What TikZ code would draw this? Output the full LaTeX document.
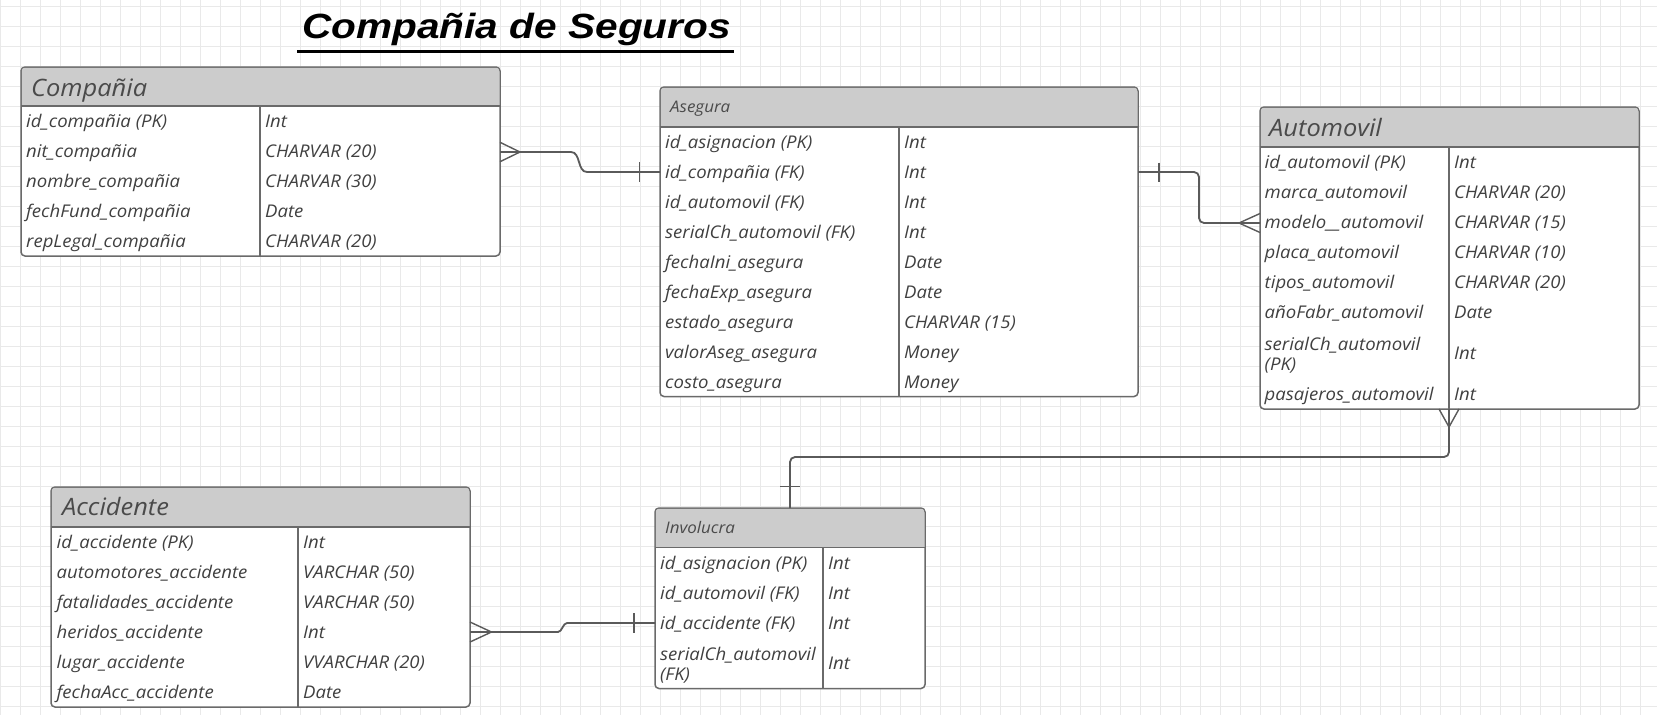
\documentclass[tikz,border=0pt]{standalone}
\usepackage{fontspec}
\setmainfont{Open Sans}[FakeStretch=1.06]
\newfontfamily\titlefont{Liberation Sans}
\usetikzlibrary{calc}
\definecolor{gridc}{HTML}{E9E9E9}
\definecolor{bordc}{HTML}{6A6A6A}
\definecolor{hdrc}{HTML}{CCCCCC}
\definecolor{txtc}{HTML}{404040}
\definecolor{hdrtxt}{HTML}{4A4A4A}
\definecolor{linec}{HTML}{5A5A5A}
\newcommand\ertab[7]{%
  \node[tbox, minimum width={#4-#2}, minimum height={#5-#3}] (#1) at (#2,#3) {};
  \fill[hdrc, rounded corners=3.2pt] (#2+0.75,#6) -- (#2+0.75,#3+0.75) -- (#4-0.75,#3+0.75) [sharp corners] -- (#4-0.75,#6) -- cycle;
  \draw[sepl] (#2,#6) -- (#4,#6);
  \draw[sepl] (#7,#6) -- (#7,#5);
}
\newcommand\rw[6]{\node[fld] (#1l) at (#2,#4) {#5}; \node[fld] (#1t) at (#3,#4) {#6};}
\begin{document}
\begin{tikzpicture}[x=1pt,y=-1pt,
  tbox/.style={draw=bordc, line width=1.5pt, fill=white, rounded corners=4pt, anchor=north west, inner sep=0pt, outer sep=0pt},
  sepl/.style={draw=bordc, line width=1.5pt},
  fld/.style={anchor=west, inner sep=0pt, text=txtc, font=\itshape\fontsize{17.5}{20}\selectfont, text height=12.5pt, text depth=0pt},
  fld2/.style={anchor=west, inner sep=0pt, text=txtc, font=\itshape\fontsize{17.5}{20}\selectfont, align=left},
  hbig/.style={anchor=west, inner sep=0pt, text=hdrtxt, font=\itshape\fontsize{24}{28}\selectfont, text height=17.2pt, text depth=0pt},
  hsmall/.style={anchor=west, inner sep=0pt, text=hdrtxt, font=\itshape\fontsize{16}{19}\selectfont, text height=11.5pt, text depth=0pt},
  conn/.style={draw=linec, line width=1.8pt},
  rconn/.style={conn, rounded corners=5pt},
  crow/.style={draw=linec, line width=1.4pt},
  barl/.style={draw=linec, line width=1.5pt}
]
\useasboundingbox (0,0) rectangle (1657,715);
\fill[white] (0,0) rectangle (1657,715);
\foreach \gx in {0,...,82} \draw[gridc, line width=0.9pt] (\gx*20+0.7,0) -- (\gx*20+0.7,715);
\foreach \gy in {0,...,35} \draw[gridc, line width=0.9pt] (0,\gy*20+6.7) -- (1657,\gy*20+6.7);

% title
\node[anchor=base west, inner sep=0pt, font=\titlefont\bfseries\itshape\fontsize{35}{40}\selectfont] (title) at (302,38.3) {\scalebox{1.16}[1]{Compañia de Seguros}};
\draw[line width=3pt] ($(title.base west)+(-5,13.5)$) -- ($(title.base east)+(3,13.5)$);

% Compania
\ertab{comp}{21}{67}{500}{256}{106}{260}
\node[hbig] (comph) at (31,87.5) {Compañia};
\rw{comp1}{26}{265}{121.5}{id\_compañia (PK)}{Int}
\rw{comp2}{26}{265}{151.5}{nit\_compañia}{CHARVAR (20)}
\rw{comp3}{26}{265}{181.5}{nombre\_compañia}{CHARVAR (30)}
\rw{comp4}{26}{265}{211.5}{fechFund\_compañia}{Date}
\rw{comp5}{26}{265}{241.5}{repLegal\_compañia}{CHARVAR (20)}

% Asegura
\ertab{aseg}{660}{87}{1138}{396.5}{127}{899}
\node[hsmall] (asegh) at (670,107) {Asegura};
\rw{aseg1}{665}{904}{142}{id\_asignacion (PK)}{Int}
\rw{aseg2}{665}{904}{172}{id\_compañia (FK)}{Int}
\rw{aseg3}{665}{904}{202}{id\_automovil (FK)}{Int}
\rw{aseg4}{665}{904}{232}{serialCh\_automovil (FK)}{Int}
\rw{aseg5}{665}{904}{262}{fechaIni\_asegura}{Date}
\rw{aseg6}{665}{904}{292}{fechaExp\_asegura}{Date}
\rw{aseg7}{665}{904}{322}{estado\_asegura}{CHARVAR (15)}
\rw{aseg8}{665}{904}{352}{valorAseg\_asegura}{Money}
\rw{aseg9}{665}{904}{382}{costo\_asegura}{Money}

% Automovil
\ertab{auto}{1260}{107}{1639}{409}{147}{1449}
\node[hbig] (autoh) at (1269,127.5) {Automovil};
\rw{auto1}{1264.5}{1454}{162}{id\_automovil (PK)}{Int}
\rw{auto2}{1264.5}{1454}{192}{marca\_automovil}{CHARVAR (20)}
\rw{auto3}{1264.5}{1454}{222}{modelo\_\_automovil}{CHARVAR (15)}
\rw{auto4}{1264.5}{1454}{252}{placa\_automovil}{CHARVAR (10)}
\rw{auto5}{1264.5}{1454}{282}{tipos\_automovil}{CHARVAR (20)}
\rw{auto6}{1264.5}{1454}{312}{añoFabr\_automovil}{Date}
\node[fld2] (auto7l) at (1264.5,355.5) {serialCh\_automovil\\(PK)};
\node[fld] (auto7t) at (1454,353.5) {Int};
\rw{auto8}{1264.5}{1454}{394}{pasajeros\_automovil}{Int}

% Accidente
\ertab{acc}{51}{487}{470}{707}{527}{298}
\node[hbig] (acch) at (62,507) {Accidente};
\rw{acc1}{56.5}{303}{542}{id\_accidente (PK)}{Int}
\rw{acc2}{56.5}{303}{572}{automotores\_accidente}{VARCHAR (50)}
\rw{acc3}{56.5}{303}{602}{fatalidades\_accidente}{VARCHAR (50)}
\rw{acc4}{56.5}{303}{632}{heridos\_accidente}{Int}
\rw{acc5}{56.5}{303}{662}{lugar\_accidente}{VVARCHAR (20)}
\rw{acc6}{56.5}{303}{692}{fechaAcc\_accidente}{Date}

% Involucra
\ertab{invo}{655}{508}{925}{688.5}{547.5}{823}
\node[hsmall] (invoh) at (665,528) {Involucra};
\rw{invo1}{660}{828}{563}{id\_asignacion (PK)}{Int}
\rw{invo2}{660}{828}{593}{id\_automovil (FK)}{Int}
\rw{invo3}{660}{828}{623}{id\_accidente (FK)}{Int}
\node[fld2] (invo4l) at (660,665) {serialCh\_automovil\\(FK)};
\node[fld] (invo4t) at (828,663) {Int};

% connector 1: Compania -> Asegura
\coordinate (c1a) at ($(comp.north east)+(0,85)$);
\coordinate (c1b) at ($(aseg.north west)+(0,85)$);
\draw[conn] (c1a) -- ++(71,0) .. controls +(10,0) and +(-10,0) .. ($(c1b)+(-73,0)$) -- (c1b);
\draw[crow] ($(c1a)+(0,-9.7)$) -- ($(c1a)+(20,0)$) -- ($(c1a)+(0,9.7)$);
\draw[barl] ($(c1b)+(-20.5,-10)$) -- ++(0,20);

% connector 2: Asegura -> Automovil
\coordinate (c2a) at ($(aseg.north east)+(0,85)$);
\coordinate (c2b) at ($(auto.north west)+(0,116)$);
\draw[rconn] (c2a) -| ($(c2a)!0.5!(c2b)$) |- (c2b);
\draw[barl] ($(c2a)+(21,-9.5)$) -- ++(0,19);
\draw[crow] ($(c2b)+(0,-9.5)$) -- ($(c2b)+(-21,0)$) -- ($(c2b)+(0,9.5)$);

% connector 3: Automovil -> Involucra
\coordinate (c3a) at ($(auto.south west)+(189,0)$);
\coordinate (c3b) at ($(invo.north west)+(135,0)$);
\draw[rconn] (c3a) -- ++(0,48) -| (c3b);
\draw[crow] ($(c3a)+(-10,0)$) -- ($(c3a)+(0,18)$) -- ($(c3a)+(10,0)$);
\draw[barl] ($(c3b)+(-10,-21.5)$) -- ++(20,0);

% connector 4: Accidente -> Involucra
\coordinate (c4a) at ($(acc.north east)+(0,145)$);
\coordinate (c4b) at ($(invo.north west)+(0,115)$);
\draw[conn] (c4a) -- ++(88,0) .. controls +(4,0) and +(-4,0) .. ($(c4b)+(-88,0)$) -- (c4b);
\draw[crow] ($(c4a)+(0,-10)$) -- ($(c4a)+(21.5,0)$) -- ($(c4a)+(0,10)$);
\draw[barl] ($(c4b)+(-21,-10)$) -- ++(0,20);
\end{tikzpicture}
\end{document}
